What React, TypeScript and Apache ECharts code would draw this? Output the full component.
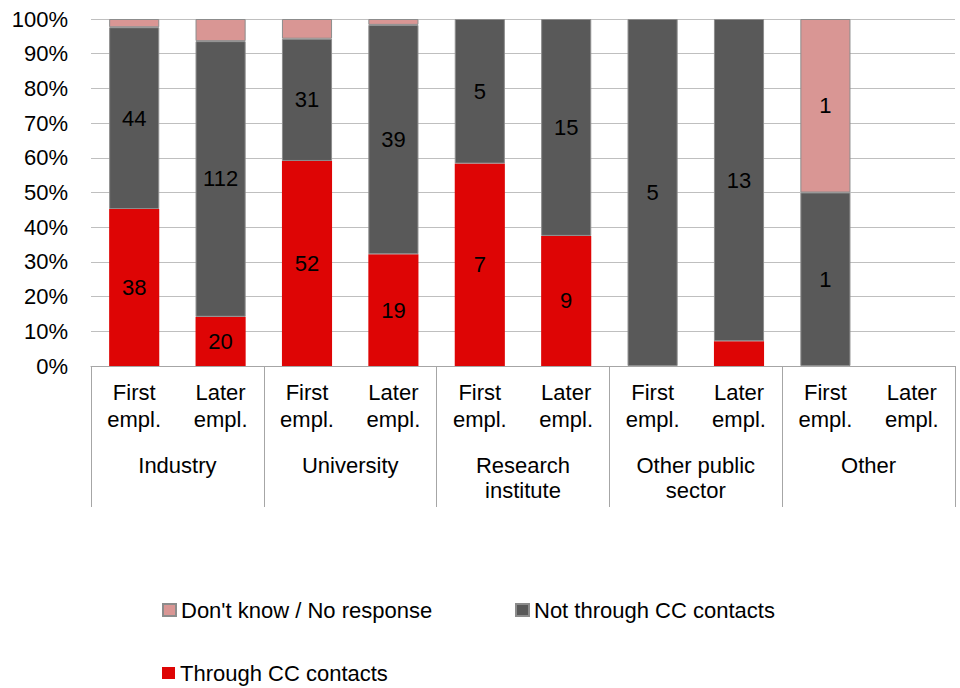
import React, { useEffect, useRef } from "react";
import * as echarts from "echarts";

// Employer sectors (outer axis level) and employment stage (inner level)
const sectors = ["Industry", "University", "Research\ninstitute", "Other public\nsector", "Other"];
const stages = ["First\nempl.", "Later\nempl."];

// Respondent counts per bar, ordered sector by sector: first, later
const throughCC = [38, 20, 52, 19, 7, 9, 0, 1, 0, 0];
const notThroughCC = [44, 112, 31, 39, 5, 15, 5, 13, 1, 0];
const dontKnow = [2, 9, 5, 1, 0, 0, 0, 0, 1, 0];

const seriesNames = ["Don't know / No response", "Not through CC contacts", "Through CC contacts"];
const colors = ["#D99694", "#595959", "#DE0505"];

const FONT = "'Liberation Sans', Arial, sans-serif";
const FS = 22;

export default function App() {
  const ref = useRef<HTMLDivElement>(null);

  useEffect(() => {
    if (!ref.current) return;
    const chart = echarts.init(ref.current, undefined, { renderer: "svg" });

    const barKeys: string[] = [];
    sectors.forEach((s) => stages.forEach((st) => barKeys.push(s + "|" + st)));

    const totals = throughCC.map((v, i) => v + notThroughCC[i] + dontKnow[i]);

    const toItems = (counts: number[]) =>
      counts.map((c, i) => {
        if (!c || !totals[i]) return { value: null, count: 0 };
        const pct = (c / totals[i]) * 100;
        return {
          value: pct,
          count: c,
          label: { show: pct >= 8 },
        };
      });

    const makeSeries = (name: string, counts: number[], color: string, border: boolean) => ({
      name,
      type: "bar",
      stack: "share",
      barWidth: "58%",
      xAxisIndex: 0,
      data: toItems(counts),
      itemStyle: border
        ? { color, borderColor: "#8C8C8C", borderWidth: 1 }
        : { color },
      label: {
        show: true,
        position: "inside",
        color: "#000",
        fontFamily: FONT,
        fontSize: FS,
        formatter: (p: any) => String(p.data.count),
      },
    });

    const legendBase = {
      icon: "rect",
      itemWidth: 13,
      itemHeight: 12,
      padding: 0,
      textStyle: { fontFamily: FONT, fontSize: FS, color: "#000" },
    };

    chart.setOption({
      animation: false,
      backgroundColor: "#fff",
      textStyle: { fontFamily: FONT },
      grid: { left: 91, right: 5, top: 19, bottom: 322, containLabel: false },
      legend: [
        { ...legendBase, data: [seriesNames[0]], left: 162, top: 599 },
        { ...legendBase, data: [seriesNames[1]], left: 515, top: 599 },
        { ...legendBase, data: [seriesNames[2]], left: 162, top: 662 },
      ],
      xAxis: [
        {
          type: "category",
          position: "bottom",
          data: barKeys,
          axisLine: { show: true, lineStyle: { color: "#A6A6A6", width: 1 } },
          axisTick: { show: false },
          axisLabel: {
            interval: 0,
            margin: 13,
            color: "#000",
            fontFamily: FONT,
            fontSize: FS,
            lineHeight: 27,
            formatter: (v: string) => v.split("|")[1],
          },
        },
        {
          type: "category",
          position: "bottom",
          data: sectors,
          axisLine: { show: false },
          axisTick: {
            show: true,
            inside: false,
            length: 141,
            lineStyle: { color: "#A6A6A6", width: 1 },
          },
          axisLabel: {
            interval: 0,
            margin: 87,
            color: "#000",
            fontFamily: FONT,
            fontSize: FS,
            lineHeight: 25,
          },
        },
      ],
      yAxis: {
        type: "value",
        min: 0,
        max: 100,
        interval: 10,
        axisLine: { show: false },
        axisTick: { show: false },
        splitLine: { show: true, lineStyle: { color: "#BFBFBF", width: 1 } },
        axisLabel: {
          formatter: "{value}%",
          margin: 23,
          color: "#000",
          fontFamily: FONT,
          fontSize: FS,
        },
      },
      series: [
        makeSeries(seriesNames[2], throughCC, colors[2], false),
        makeSeries(seriesNames[1], notThroughCC, colors[1], true),
        makeSeries(seriesNames[0], dontKnow, colors[0], true),
      ],
    });

    return () => chart.dispose();
  }, []);

  return (
    <div
      ref={ref}
      style={{ position: "fixed", left: 0, top: 0, width: 960, height: 688 }}
    />
  );
}
